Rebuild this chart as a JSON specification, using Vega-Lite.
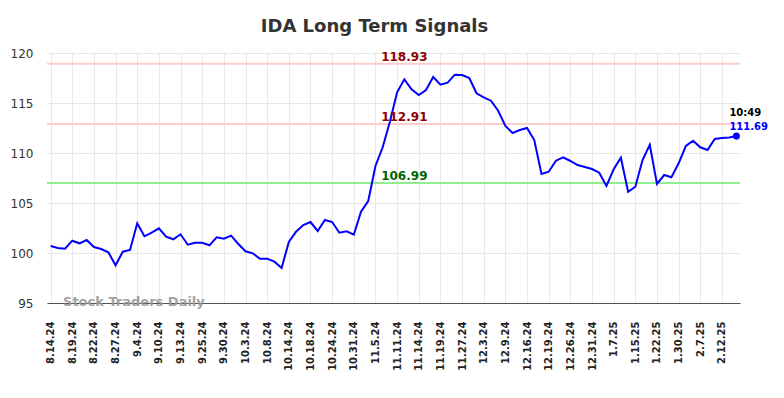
{
  "$schema": "https://vega.github.io/schema/vega-lite/v6.json",
  "autosize": "none",
  "width": 693,
  "height": 250,
  "padding": {"left": 47, "top": 53, "right": 44, "bottom": 95},
  "title": {"text": "IDA Long Term Signals", "fontSize": 18, "fontWeight": "bold", "color": "#333333", "font": "DejaVu Sans", "anchor": "middle", "dx": -19, "baseline": "alphabetic", "offset": -3, "frame": "group"},
  "config": {"view": {"stroke": null}, "font": "DejaVu Sans"},
  "datasets": {
    "prices": [
      {"d": "8.14.24", "v": 100.7}, {"d": "8.15.24", "v": 100.5}, {"d": "8.16.24", "v": 100.43},
      {"d": "8.19.24", "v": 101.23}, {"d": "8.20.24", "v": 100.97}, {"d": "8.21.24", "v": 101.3},
      {"d": "8.22.24", "v": 100.6}, {"d": "8.23.24", "v": 100.4}, {"d": "8.26.24", "v": 100.07},
      {"d": "8.27.24", "v": 98.77}, {"d": "8.28.24", "v": 100.13}, {"d": "8.29.24", "v": 100.3},
      {"d": "9.4.24", "v": 102.97}, {"d": "9.5.24", "v": 101.67}, {"d": "9.6.24", "v": 102.03},
      {"d": "9.10.24", "v": 102.47}, {"d": "9.11.24", "v": 101.63}, {"d": "9.12.24", "v": 101.37},
      {"d": "9.13.24", "v": 101.87}, {"d": "9.16.24", "v": 100.83}, {"d": "9.17.24", "v": 101.03},
      {"d": "9.25.24", "v": 101.03}, {"d": "9.26.24", "v": 100.77}, {"d": "9.27.24", "v": 101.57},
      {"d": "9.30.24", "v": 101.43}, {"d": "10.1.24", "v": 101.73}, {"d": "10.2.24", "v": 100.9},
      {"d": "10.3.24", "v": 100.17}, {"d": "10.4.24", "v": 99.97}, {"d": "10.7.24", "v": 99.43},
      {"d": "10.8.24", "v": 99.43}, {"d": "10.9.24", "v": 99.13}, {"d": "10.10.24", "v": 98.5},
      {"d": "10.14.24", "v": 101.1}, {"d": "10.15.24", "v": 102.13}, {"d": "10.16.24", "v": 102.8},
      {"d": "10.18.24", "v": 103.1}, {"d": "10.21.24", "v": 102.2}, {"d": "10.22.24", "v": 103.3},
      {"d": "10.24.24", "v": 103.1}, {"d": "10.25.24", "v": 102.03}, {"d": "10.28.24", "v": 102.17},
      {"d": "10.31.24", "v": 101.83}, {"d": "11.1.24", "v": 104.13}, {"d": "11.4.24", "v": 105.2},
      {"d": "11.5.24", "v": 108.7}, {"d": "11.6.24", "v": 110.57}, {"d": "11.7.24", "v": 113.13},
      {"d": "11.11.24", "v": 116.07}, {"d": "11.12.24", "v": 117.37}, {"d": "11.13.24", "v": 116.37},
      {"d": "11.14.24", "v": 115.8}, {"d": "11.15.24", "v": 116.3}, {"d": "11.18.24", "v": 117.6},
      {"d": "11.19.24", "v": 116.83}, {"d": "11.20.24", "v": 117.03}, {"d": "11.21.24", "v": 117.83},
      {"d": "11.27.24", "v": 117.8}, {"d": "11.29.24", "v": 117.5}, {"d": "12.2.24", "v": 115.97},
      {"d": "12.3.24", "v": 115.57}, {"d": "12.4.24", "v": 115.23}, {"d": "12.5.24", "v": 114.23},
      {"d": "12.9.24", "v": 112.7}, {"d": "12.10.24", "v": 112.0}, {"d": "12.11.24", "v": 112.3},
      {"d": "12.16.24", "v": 112.5}, {"d": "12.17.24", "v": 111.3}, {"d": "12.18.24", "v": 107.9},
      {"d": "12.19.24", "v": 108.13}, {"d": "12.20.24", "v": 109.23}, {"d": "12.23.24", "v": 109.57},
      {"d": "12.26.24", "v": 109.2}, {"d": "12.27.24", "v": 108.8}, {"d": "12.30.24", "v": 108.6},
      {"d": "12.31.24", "v": 108.4}, {"d": "1.2.25", "v": 108.03}, {"d": "1.3.25", "v": 106.7},
      {"d": "1.7.25", "v": 108.37}, {"d": "1.8.25", "v": 109.53}, {"d": "1.10.25", "v": 106.13},
      {"d": "1.15.25", "v": 106.63}, {"d": "1.16.25", "v": 109.3}, {"d": "1.17.25", "v": 110.83},
      {"d": "1.22.25", "v": 106.9}, {"d": "1.23.25", "v": 107.8}, {"d": "1.24.25", "v": 107.57},
      {"d": "1.30.25", "v": 108.97}, {"d": "1.31.25", "v": 110.7}, {"d": "2.3.25", "v": 111.23},
      {"d": "2.7.25", "v": 110.57}, {"d": "2.10.25", "v": 110.3}, {"d": "2.11.25", "v": 111.4},
      {"d": "2.12.25", "v": 111.5}, {"d": "2.13.25", "v": 111.55}, {"d": "2.14.25", "v": 111.69}
    ],
    "levels": [
      {"d": "11.12.24", "v": 118.93, "kind": "high", "label": "118.93"},
      {"d": "11.12.24", "v": 112.91, "kind": "mid", "label": "112.91"},
      {"d": "11.12.24", "v": 106.99, "kind": "low", "label": "106.99"}
    ],
    "last": [{"d": "2.14.25", "v": 111.69, "time": "10:49", "label": "111.69"}],
    "mark": [{"d": "8.16.24", "v": 95, "label": "Stock Traders Daily"}]
  },
  "encoding": {
    "x": {
      "field": "d", "type": "ordinal", "sort": null,
      "scale": {"type": "point", "padding": 0.5},
      "axis": {
        "title": null,
        "values": ["8.14.24","8.19.24","8.22.24","8.27.24","9.4.24","9.10.24","9.13.24","9.25.24","9.30.24","10.3.24","10.8.24","10.14.24","10.18.24","10.24.24","10.31.24","11.5.24","11.11.24","11.14.24","11.19.24","11.27.24","12.3.24","12.9.24","12.16.24","12.19.24","12.26.24","12.31.24","1.7.25","1.15.25","1.22.25","1.30.25","2.7.25","2.12.25"],
        "labelAngle": -90, "labelFontSize": 10, "labelFontWeight": "bold", "labelColor": "#222222",
        "labelPadding": 18, "ticks": false, "grid": true, "gridColor": "#e8e8e8", "gridWidth": 1,
        "domain": true, "domainColor": "#555555", "domainWidth": 1
      }
    },
    "y": {
      "field": "v", "type": "quantitative",
      "scale": {"domain": [95, 120], "nice": false, "zero": false},
      "axis": {
        "title": null, "values": [95, 100, 105, 110, 115, 120],
        "labelFontSize": 12, "labelColor": "#333333", "labelPadding": 14,
        "ticks": false, "domain": false, "grid": true, "gridColor": "#e8e8e8", "gridWidth": 1
      }
    }
  },
  "resolve": {"scale": {"color": "independent"}},
  "layer": [
    {
      "data": {"name": "levels"},
      "mark": {"type": "rule", "strokeWidth": 2},
      "encoding": {
        "x": null,
        "y": {"field": "v", "type": "quantitative"},
        "color": {"field": "kind", "type": "nominal", "legend": null,
          "scale": {"domain": ["high", "mid", "low"], "range": ["#ffcccc", "#ffcccc", "#90ee90"]}}
      }
    },
    {
      "data": {"name": "prices"},
      "mark": {"type": "line", "color": "#0000ff", "strokeWidth": 2}
    },
    {
      "data": {"name": "levels"},
      "mark": {"type": "text", "fontSize": 12, "fontWeight": "bold", "align": "center", "baseline": "alphabetic", "dy": -3},
      "encoding": {
        "text": {"field": "label"},
        "color": {"field": "label", "type": "nominal", "legend": null,
          "scale": {"domain": ["118.93", "112.91", "106.99"], "range": ["#8b0000", "#8b0000", "#006400"]}}
      }
    },
    {
      "data": {"name": "last"},
      "mark": {"type": "point", "filled": true, "size": 50, "color": "#0000ff", "opacity": 1}
    },
    {
      "data": {"name": "last"},
      "mark": {"type": "text", "fontSize": 10, "fontWeight": "bold", "align": "left", "baseline": "alphabetic", "dx": -7, "dy": -6, "color": "#0000ff"},
      "encoding": {"text": {"field": "label"}}
    },
    {
      "data": {"name": "last"},
      "mark": {"type": "text", "fontSize": 10, "fontWeight": "bold", "align": "left", "baseline": "alphabetic", "dx": -7, "dy": -20, "color": "#000000"},
      "encoding": {"text": {"field": "time"}}
    },
    {
      "data": {"name": "mark"},
      "mark": {"type": "text", "fontSize": 13, "fontWeight": "bold", "align": "left", "baseline": "alphabetic", "dx": -2, "dy": 3, "color": "#999999", "opacity": 0.9},
      "encoding": {"text": {"field": "label"}}
    }
  ]
}
